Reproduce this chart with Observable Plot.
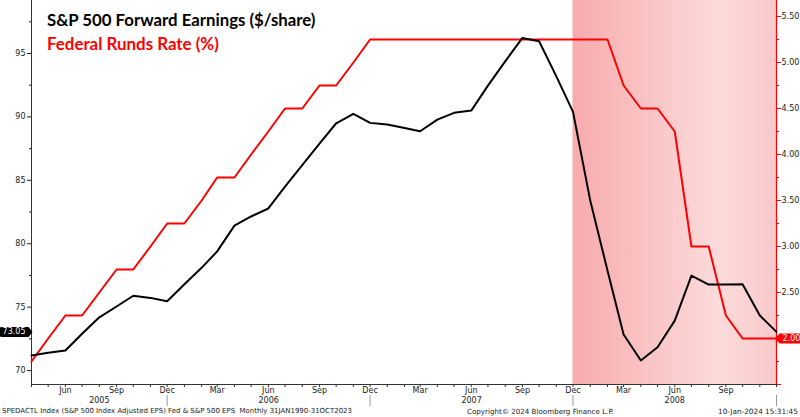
<!DOCTYPE html>
<html>
<head>
<meta charset="utf-8">
<script src="https://cdn.jsdelivr.net/npm/d3@7"></script>
<script src="https://cdn.jsdelivr.net/npm/@observablehq/plot@0.6"></script>
<style>
  body { margin: 0; background: #fff; }
  #wrap { position: relative; width: 800px; height: 417px; overflow: hidden; background: #fff; }
  .ttl { position: absolute; left: 48px; font-family: Lato, "Open Sans", sans-serif; font-weight: 700; white-space: nowrap; line-height: 1; }
  .ft { position: absolute; font-family: "DejaVu Sans", sans-serif; white-space: nowrap; line-height: 1; color: #222; }
</style>
</head>
<body>
<div id="wrap">
  <div id="chart"></div>
  <div id="t1" class="ttl" style="color:#000">S&amp;P 500 Forward Earnings ($/share)</div>
  <div id="t2" class="ttl" style="color:#ff0000">Federal Runds Rate (%)</div>
  <div id="f1" class="ft">SPEDACTL Index (S&amp;P 500 Index Adjusted EPS) Fed &amp; S&amp;P 500 EPS&nbsp; Monthly 31JAN1990-31OCT2023</div>
  <div id="f2" class="ft">Copyright© 2024 Bloomberg Finance L.P.</div>
  <div id="f3" class="ft">10-Jan-2024 15:31:45</div>
</div>
<script>
// ---------------- data ----------------
const months = [
  "2005-04","2005-05","2005-06","2005-07","2005-08","2005-09","2005-10","2005-11","2005-12",
  "2006-01","2006-02","2006-03","2006-04","2006-05","2006-06","2006-07","2006-08","2006-09","2006-10","2006-11","2006-12",
  "2007-01","2007-02","2007-03","2007-04","2007-05","2007-06","2007-07","2007-08","2007-09","2007-10","2007-11","2007-12",
  "2008-01","2008-02","2008-03","2008-04","2008-05","2008-06","2008-07","2008-08","2008-09","2008-10","2008-11","2008-12"
];
// S&P 500 forward earnings ($/share), left axis
const eps = [
  71.18, 71.40, 71.58, 72.90, 74.20, 75.05, 75.90, 75.73, 75.47,
  76.80, 78.10, 79.40, 81.43, 82.15, 82.78, 84.50, 86.20, 87.90, 89.50, 90.24, 89.53,
  89.40, 89.13, 88.87, 89.79, 90.32, 90.50, 92.47, 94.38, 96.23, 95.97, 93.20, 90.40,
  83.40, 77.89, 72.84, 70.79, 71.84, 73.94, 77.49, 76.78, 76.78, 76.80, 74.34, 73.05
];
// Federal funds rate (%), right axis
const fedRate = [
  1.75, 2.00, 2.25, 2.25, 2.50, 2.75, 2.75, 3.00, 3.25,
  3.25, 3.50, 3.75, 3.75, 4.00, 4.25, 4.50, 4.50, 4.75, 4.75, 5.00, 5.25,
  5.25, 5.25, 5.25, 5.25, 5.25, 5.25, 5.25, 5.25, 5.25, 5.25, 5.25, 5.25,
  5.25, 5.25, 4.75, 4.50, 4.50, 4.25, 3.00, 3.00, 2.25, 2.00, 2.00, 2.00
];
const quarterTicks = [
  "2005-06","2005-09","2005-12","2006-03","2006-06","2006-09","2006-12",
  "2007-03","2007-06","2007-09","2007-12","2008-03","2008-06","2008-09"
];
const yearEnds = ["2005-12","2006-12","2007-12","2008-12"];
const years = ["2005","2006","2007","2008"];
const shadeStart = "2007-12";
const shadeEnd = "2008-12";
const leftTicks = [70, 75, 80, 85, 90, 95];
const leftMinor = [72.5, 77.5, 82.5, 87.5, 92.5, 97.5];
const rightTicks = [1.5, 2.0, 2.5, 3.0, 3.5, 4.0, 4.5, 5.0, 5.5];
const rightMinor = [1.75, 2.25, 2.75, 3.25, 3.75, 4.25, 4.75, 5.25];
const leftDomain = [68.9, 99.18];
const rightDomain = [1.5, 5.674];

// ---------------- helpers ----------------
const parse = d3.utcParse("%Y-%m");
const dates = months.map(parse);
const k = (leftDomain[1] - leftDomain[0]) / (rightDomain[1] - rightDomain[0]);
const rateToLeft = r => leftDomain[0] + (r - rightDomain[0]) * k;
const leftToRate = v => rightDomain[0] + (v - leftDomain[0]) / k;

const epsData = dates.map((d, i) => ({date: d, v: eps[i]}));
const fedData = dates.map((d, i) => ({date: d, v: rateToLeft(fedRate[i])}));
const fmtMon = d3.utcFormat("%b");

const yearMid = years.map((y, i) => {
  const end = parse(yearEnds[i]);
  const start = i === 0 ? dates[0] : parse(yearEnds[i - 1]);
  return new Date((+start + +end) / 2);
});

const lastEps = eps[eps.length - 1];
const lastRate = fedRate[fedRate.length - 1];

const plot = Plot.plot({
  width: 800,
  height: 417,
  marginLeft: 31,
  marginRight: 24,
  marginTop: 0,
  marginBottom: 33,
  style: {fontFamily: "'DejaVu Sans', sans-serif", fontSize: "8px", background: "white", color: "#222"},
  x: {type: "utc", domain: [dates[0], dates[dates.length - 1]], label: null},
  y: {domain: leftDomain, label: null},
  marks: [
    Plot.rect([{a: parse(shadeStart), b: parse(shadeEnd)}], {x1: "a", x2: "b", fill: "url(#shadeGrad)"}),
    Plot.ruleX([dates[0]], {stroke: "#333"}),
    Plot.ruleY([leftDomain[0]], {stroke: "#333"}),
    // x axis
    Plot.axisX({ticks: dates, tickSize: 3, tickFormat: () => "", stroke: "#333", label: null}),
    Plot.axisX({ticks: quarterTicks.map(parse), tickSize: 0, tickPadding: 3, tickFormat: fmtMon, fill: "#222", label: null}),
    Plot.axisX({ticks: yearEnds.map(parse), tickSize: 11, dy: 11, tickFormat: () => "", stroke: "#999", label: null}),
    Plot.axisX({ticks: yearMid, tickSize: 0, tickPadding: 13, tickFormat: (d) => years[yearMid.findIndex(m => +m === +d)], fill: "#222", label: null}),
    // left axis
    Plot.axisY({ticks: leftTicks, anchor: "left", tickSize: 4, tickPadding: 2, stroke: "#222", fill: "#222", label: null}),
    Plot.axisY({ticks: leftMinor, anchor: "left", tickSize: 2, tickFormat: () => "", stroke: "#222", label: null}),
    // right axis
    Plot.axisY({ticks: rightTicks.map(rateToLeft), anchor: "right", tickSize: 4, tickPadding: 1,
      tickFormat: d => { const r = leftToRate(d); return Math.abs(r - 1.5) < 1e-6 ? "" : r.toFixed(2); },
      stroke: "#ff0000", fill: "#222", label: null}),
    Plot.axisY({ticks: rightMinor.map(rateToLeft), anchor: "right", tickSize: 2, tickFormat: () => "", stroke: "#ff0000", label: null}),
    Plot.ruleX([dates[dates.length - 1]], {stroke: "#ff0000", strokeWidth: 1.2}),
    // series
    Plot.line(fedData, {x: "date", y: "v", stroke: "#ff0000", strokeWidth: 2}),
    Plot.line(epsData, {x: "date", y: "v", stroke: "#000", strokeWidth: 2}),
    // last-value labels
    Plot.axisY({ticks: [lastEps], anchor: "left", tickSize: 0, tickPadding: 6, tickFormat: d => d.toFixed(2),
      fill: "#fff", className: "lastL", label: null}),
    Plot.axisY({ticks: [rateToLeft(lastRate)], anchor: "right", tickSize: 0, tickPadding: 6,
      tickFormat: d => leftToRate(d).toFixed(2), fill: "#fff", className: "lastR", label: null})
  ]
});

document.getElementById("chart").appendChild(plot);

const NS = "http://www.w3.org/2000/svg";
const defs = document.createElementNS(NS, "defs");
defs.innerHTML = `<linearGradient id="shadeGrad" x1="0" x2="1" y1="0" y2="0">
  <stop offset="0" stop-color="#f8abad"/>
  <stop offset="0.72" stop-color="#fcdbdb"/>
  <stop offset="1" stop-color="#f9c9ca"/>
</linearGradient>`;
plot.insertBefore(defs, plot.firstChild);

function addBox(cls, bg, dir) {
  plot.querySelectorAll(`.${cls} text`).forEach(t => {
    const b = t.getBBox();
    const x0 = b.x - 3, x1 = b.x + b.width + 3, y0 = b.y - 0.5, y1 = b.y + b.height + 0.5, ym = (y0 + y1) / 2, a = 4, r = 2;
    let d;
    if (dir === "right") {
      d = `M${x0 + r},${y0}H${x1}L${x1 + a},${ym}L${x1},${y1}H${x0 + r}Q${x0},${y1} ${x0},${y1 - r}V${y0 + r}Q${x0},${y0} ${x0 + r},${y0}Z`;
    } else {
      d = `M${x0},${y0}L${x0 - a},${ym}L${x0},${y1}H${x1 - r}Q${x1},${y1} ${x1},${y1 - r}V${y0 + r}Q${x1},${y0} ${x1 - r},${y0}Z`;
    }
    const p = document.createElementNS(NS, "path");
    p.setAttribute("d", d);
    p.setAttribute("fill", bg);
    const tr = t.getAttribute("transform");
    if (tr) p.setAttribute("transform", tr);
    t.parentNode.insertBefore(p, t);
  });
}
addBox("lastL", "#000", "right");
addBox("lastR", "#ff0000", "left");

const ctx = document.createElement("canvas").getContext("2d");
function fit(id, targetW, baseline, left, right, ascent) {
  const el = document.getElementById(id);
  const cs = getComputedStyle(el);
  ctx.font = `${cs.fontWeight} 100px ${cs.fontFamily}`;
  const w = ctx.measureText(el.textContent).width;
  const fs = 100 * targetW / w;
  el.style.fontSize = fs + "px";
  el.style.top = (baseline - ascent * fs) + "px";
  if (left != null) el.style.left = left + "px";
  if (right != null) { el.style.left = (right - targetW) + "px"; }
}
fit("t1", 269, 26.5, 47, null, 0.887);
fit("t2", 172, 51, 47, null, 0.887);
fit("f1", 350, 414, 2, null, 0.88);
fit("f2", 147, 414, 467, null, 0.88);
fit("f3", 80, 414, null, 798, 0.88);
</script>
</body>
</html>
